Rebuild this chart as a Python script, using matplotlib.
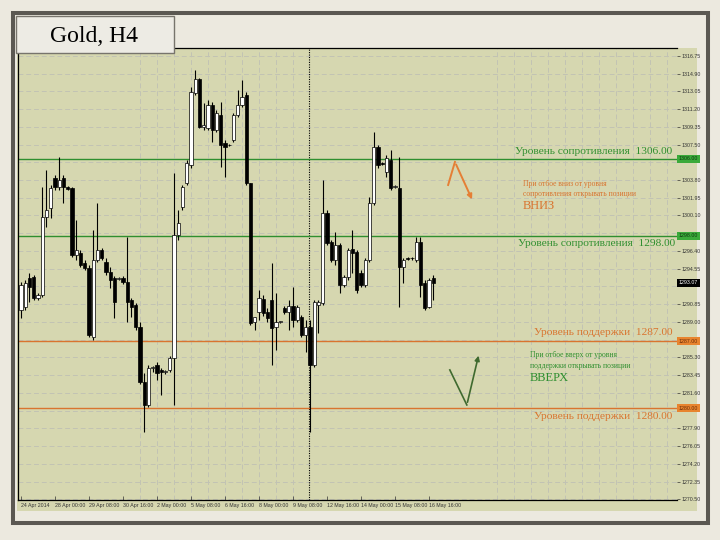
import matplotlib
matplotlib.use("Agg")
import matplotlib.pyplot as plt
from matplotlib.patches import Rectangle
from matplotlib.transforms import blended_transform_factory

# H4 candles (oldest first)
opens = [1290.25, 1290.57, 1293.59, 1293.69, 1291.50, 1291.82, 1299.95, 1300.89, 1304.01, 1303.08,
         1304.01, 1303.08, 1302.97, 1295.99, 1296.19, 1295.15, 1294.63, 1287.44, 1295.46, 1296.51,
         1295.26, 1294.21, 1293.59, 1293.48, 1293.59, 1293.17, 1291.29, 1290.77, 1288.48, 1282.75,
         1280.35, 1284.21, 1284.52, 1284.00, 1283.79, 1284.00, 1285.25, 1298.07, 1300.99, 1303.49,
         1305.37, 1312.87, 1314.33, 1309.33, 1309.23, 1311.62, 1309.02, 1310.58, 1307.66, 1307.45,
         1307.97, 1310.58, 1311.62, 1312.67, 1303.49, 1289.00, 1290.04, 1291.40, 1290.04, 1291.29,
         1288.48, 1289.00, 1290.46, 1290.04, 1290.67, 1289.21, 1289.52, 1287.65, 1288.48, 1284.52,
         1290.77, 1290.98, 1300.36, 1297.34, 1295.46, 1297.03, 1292.86, 1293.69, 1296.61, 1296.30,
         1294.11, 1292.86, 1295.46, 1301.41, 1307.25, 1305.58, 1304.64, 1305.89, 1303.08, 1302.97,
         1294.74, 1295.67, 1295.67, 1295.46, 1297.34, 1293.07, 1290.57, 1293.59]
closes = [1292.86, 1293.07, 1292.65, 1291.50, 1291.82, 1299.95, 1300.68, 1302.97, 1303.08, 1303.80,
          1303.08, 1302.87, 1295.99, 1296.51, 1294.94, 1294.63, 1287.65, 1295.46, 1296.51, 1295.67,
          1294.21, 1293.38, 1291.09, 1293.59, 1293.17, 1291.09, 1290.57, 1288.48, 1282.75, 1280.35,
          1284.21, 1284.31, 1283.68, 1283.79, 1283.89, 1285.25, 1298.07, 1299.32, 1303.08, 1305.58,
          1312.98, 1314.33, 1309.33, 1309.54, 1311.62, 1309.02, 1310.79, 1307.45, 1307.25, 1307.40,
          1310.58, 1311.62, 1312.46, 1303.49, 1288.90, 1289.52, 1291.50, 1289.94, 1289.42, 1288.38,
          1289.00, 1289.10, 1290.04, 1290.67, 1289.21, 1290.57, 1287.65, 1288.48, 1284.52, 1291.09,
          1291.09, 1300.36, 1297.24, 1295.46, 1297.03, 1292.86, 1293.69, 1296.51, 1296.19, 1292.34,
          1292.86, 1295.46, 1301.41, 1307.25, 1305.37, 1305.47, 1306.10, 1302.97, 1303.18, 1294.74,
          1295.46, 1295.57, 1295.62, 1297.34, 1292.86, 1290.46, 1293.38, 1293.07]
highs = [1293.17, 1293.38, 1294.11, 1293.90, 1292.02, 1303.08, 1304.85, 1303.28, 1304.33, 1306.20,
         1304.33, 1303.18, 1303.08, 1299.63, 1296.51, 1295.46, 1294.94, 1298.59, 1301.41, 1296.72,
         1295.67, 1294.74, 1293.80, 1293.69, 1293.80, 1297.86, 1291.50, 1290.98, 1289.00, 1283.68,
         1284.52, 1284.41, 1284.83, 1284.21, 1284.00, 1285.46, 1304.53, 1300.68, 1303.28, 1305.89,
         1313.50, 1315.27, 1314.44, 1311.83, 1312.14, 1311.94, 1311.10, 1311.94, 1307.97, 1307.55,
         1310.79, 1313.19, 1314.23, 1312.98, 1303.49, 1289.52, 1292.34, 1291.82, 1290.46, 1295.15,
         1292.02, 1289.10, 1290.67, 1291.29, 1292.65, 1290.77, 1289.73, 1289.21, 1289.21, 1291.29,
         1291.29, 1303.80, 1300.68, 1297.55, 1298.38, 1297.24, 1293.90, 1296.72, 1298.59, 1296.51,
         1294.42, 1295.67, 1302.03, 1308.81, 1307.45, 1305.68, 1306.41, 1306.93, 1303.28, 1306.20,
         1295.67, 1295.78, 1295.78, 1297.86, 1297.86, 1293.38, 1293.59, 1293.90]
lows = [1289.42, 1290.25, 1291.09, 1291.29, 1291.29, 1291.61, 1298.91, 1299.84, 1302.76, 1302.76,
        1301.41, 1302.76, 1295.78, 1295.46, 1294.74, 1294.42, 1287.44, 1287.12, 1295.26, 1295.46,
        1293.90, 1292.55, 1289.42, 1293.38, 1292.96, 1289.00, 1289.52, 1288.17, 1282.54, 1277.53,
        1280.14, 1283.79, 1282.95, 1281.39, 1283.58, 1283.79, 1280.35, 1297.55, 1300.68, 1303.28,
        1305.06, 1312.67, 1309.23, 1309.02, 1309.02, 1307.77, 1308.81, 1305.16, 1304.12, 1307.30,
        1307.77, 1310.37, 1311.42, 1303.28, 1288.69, 1288.17, 1289.21, 1289.63, 1289.00, 1284.52,
        1286.08, 1288.90, 1289.84, 1288.17, 1288.48, 1289.00, 1287.44, 1285.87, 1277.53, 1284.31,
        1287.85, 1290.77, 1297.03, 1295.26, 1294.94, 1292.02, 1292.65, 1293.38, 1294.11, 1292.02,
        1292.65, 1292.65, 1295.26, 1301.20, 1305.06, 1305.37, 1304.12, 1302.76, 1302.97, 1290.57,
        1293.07, 1295.46, 1295.46, 1295.26, 1291.61, 1290.25, 1290.46, 1291.29]

date_labels = ["24 Apr 2014", "28 Apr 00:00", "29 Apr 08:00", "30 Apr 16:00", "2 May 00:00",
               "5 May 08:00", "6 May 16:00", "8 May 00:00", "9 May 08:00", "12 May 16:00",
               "14 May 00:00", "15 May 08:00", "16 May 16:00"]
price_ticks = [1270.50, 1272.35, 1274.20, 1276.05, 1277.90, 1279.75, 1281.60, 1283.45, 1285.30,
               1287.15, 1289.00, 1290.85, 1292.70, 1294.55, 1296.40, 1298.25, 1300.10, 1301.95,
               1303.80, 1305.65, 1307.50, 1309.35, 1311.20, 1313.05, 1314.90, 1316.75]

resistance = [1306.00, 1298.00]
support = [1287.00, 1280.00]

BEIGE = "#ece9df"
KHAKI = "#d6d7b0"
GREEN = "#2f8f2f"
ORANGE = "#d9742f"
SERIF = "Liberation Serif"

plt.rcParams["font.family"] = ["Liberation Sans", "DejaVu Sans"]

fig = plt.figure(figsize=(7.2, 5.4), dpi=100, facecolor=BEIGE)
W, H = 720.0, 540.0

def fx(px):
    return px / W

def fy(py):
    return 1 - py / H

# khaki chart window (plot + price/time scales)
fig.add_artist(Rectangle((fx(17), fy(511)), fx(697) - fx(17), fy(48) - fy(511),
                         transform=fig.transFigure, facecolor=KHAKI, edgecolor="none", zorder=-1))

ax = fig.add_axes([fx(18), fy(500), fx(677) - fx(18), fy(48) - fy(500)])
ax.set_facecolor(KHAKI)

n = len(opens)
xs = list(range(n))

# candles
ax.vlines(xs, lows, highs, color="black", lw=0.8, zorder=3)
bottoms = [min(o, c) for o, c in zip(opens, closes)]
heights = [max(abs(c - o), 0.08) for o, c in zip(opens, closes)]
colors = ["white" if c >= o else "black" for o, c in zip(opens, closes)]
ax.bar(xs, heights, bottom=bottoms, width=0.72, color=colors, edgecolor="black", lw=0.5, zorder=4)

ax.set_xlim(-0.7, 154.35)
ax.set_ylim(1270.44, 1317.56)

# grid
grid_kw = dict(color="#c2c3b4", lw=0.7, ls=(0, (5, 3)), zorder=1)
for p in price_ticks:
    ax.axhline(p, **grid_kw)
for b in list(range(28, 65, 4)) + list(range(112, 153, 4)):
    ax.axvline(b, **grid_kw)

ax.axvline(67.8, color="black", lw=0.8, ls=(0, (1, 1.2)), zorder=2)

# levels
for lv in resistance:
    ax.axhline(lv, color=GREEN, lw=1.0, zorder=2)
for lv in support:
    ax.axhline(lv, color=ORANGE, lw=1.0, zorder=2)

ax.text(153.3, 1306.75, "Уровень сопротивления  1306.00", family=SERIF, fontsize=8.2,
        color=GREEN, ha="right", va="center")
ax.text(154.0, 1297.2, "Уровень сопротивления  1298.00", family=SERIF, fontsize=8.2,
        color=GREEN, ha="right", va="center")
ax.text(153.3, 1287.95, "Уровень поддержки  1287.00", family=SERIF, fontsize=8.2,
        color=ORANGE, ha="right", va="center")
ax.text(153.3, 1279.1, "Уровень поддержки  1280.00", family=SERIF, fontsize=8.2,
        color=ORANGE, ha="right", va="center")

ax.text(118.0, 1303.4, "При отбое вниз от уровня", family=SERIF, fontsize=5.5,
        color=ORANGE, ha="left", va="center")
ax.text(118.0, 1302.35, "сопротивления открывать позиции", family=SERIF, fontsize=5.5,
        color=ORANGE, ha="left", va="center")
ax.text(118.0, 1301.1, "ВНИЗ", family=SERIF, fontsize=9, color=ORANGE, ha="left", va="center")

ax.text(119.8, 1285.56, "При отбое вверх от уровня", family=SERIF, fontsize=5.5,
        color=GREEN, ha="left", va="center")
ax.text(119.8, 1284.41, "поддержки открывать позиции", family=SERIF, fontsize=5.5,
        color=GREEN, ha="left", va="center")
ax.text(119.8, 1283.16, "ВВЕРХ", family=SERIF, fontsize=9, color=GREEN, ha="left", va="center")

# hand drawn arrows
ax.plot([100.5, 102.1], [1303.28, 1305.68], color="#e57f35", lw=1.4, zorder=5)
ax.annotate("", xy=(106.4, 1301.51), xytext=(102.1, 1305.68),
            arrowprops=dict(arrowstyle="-|>", color="#e57f35", lw=1.4, mutation_scale=7), zorder=5)
ax.plot([100.9, 104.9], [1284.00, 1280.35], color="#3f6a2f", lw=1.2, zorder=5)
ax.annotate("", xy=(107.8, 1285.77), xytext=(104.9, 1280.35),
            arrowprops=dict(arrowstyle="-|>", color="#3f6a2f", lw=1.2, mutation_scale=7), zorder=5)

# axes styling
for side in ["left", "top", "bottom"]:
    ax.spines[side].set_color("black")
    ax.spines[side].set_linewidth(0.9)
ax.spines["right"].set_visible(False)

# price boxes on the scale hide the tick labels beneath them
boxes = [(resistance[0], "#3aaa3a", "#103810"), (resistance[1], "#3aaa3a", "#103810"),
         (closes[-1], "black", "white"), (support[0], "#e8842e", "#6a2e08"),
         (support[1], "#e8842e", "#6a2e08")]
box_vals = [b[0] for b in boxes]

ax.yaxis.tick_right()
ax.set_yticks(price_ticks)
ax.set_yticklabels(["" if min(abs(p - v) for v in box_vals) < 0.7 else f"{p:.2f}"
                    for p in price_ticks])
ax.tick_params(axis="y", length=2, width=0.5, pad=1, labelsize=3.8, colors="#333333")

ax.set_xticks(range(0, 8 * len(date_labels), 8))
ax.set_xticklabels(date_labels, ha="left")
ax.tick_params(axis="x", direction="in", length=3, width=0.5, pad=2, labelsize=3.8, colors="#333333")

trans = blended_transform_factory(ax.transAxes, ax.transData)
for val, bg, fg in boxes:
    ax.text(1.003, val, f"{val:.2f}", transform=trans, fontsize=3.8, color=fg, ha="left",
            va="center", bbox=dict(boxstyle="square,pad=0.3", fc=bg, ec="none"),
            clip_on=False, zorder=6)

# title box
fig.add_artist(Rectangle((fx(16), fy(53)), fx(174) - fx(16), fy(16) - fy(53),
                         transform=fig.transFigure, facecolor="#edebe4", edgecolor="#77746c",
                         lw=1.0, zorder=5))
fig.text(fx(94), fy(36), "Gold, H4", family=SERIF, fontsize=17, color="black",
         ha="center", va="center", zorder=6)

# slide frame
fig.add_artist(Rectangle((fx(12.5), fy(522.5)), fx(708.5) - fx(12.5), fy(12.5) - fy(522.5),
                         transform=fig.transFigure, fill=False, edgecolor="#5b5852",
                         lw=2.9, zorder=7))

fig.savefig("out.png", dpi=100, facecolor=BEIGE)
